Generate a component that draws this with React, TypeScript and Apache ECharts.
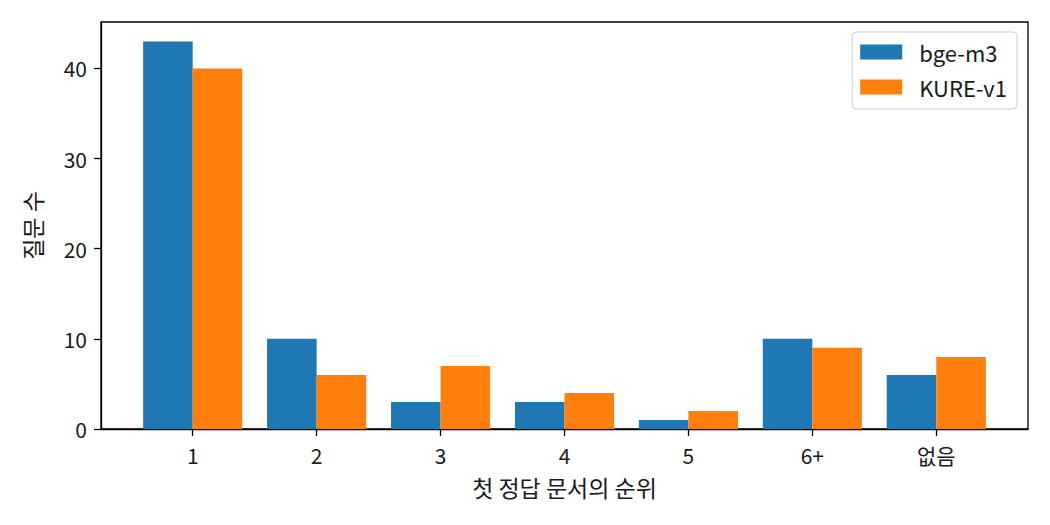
import React, { useEffect, useRef } from 'react'
import * as echarts from 'echarts'

// 순위 구간 (x축 카테고리)
const categories = ['1', '2', '3', '4', '5', '6+', '없음']
// 모델별 질문 수
const bgeM3 = [43, 10, 3, 3, 1, 10, 6]
const kureV1 = [40, 6, 7, 4, 2, 9, 8]
// y축 눈금
const yTicks = [0, 10, 20, 30, 40]

const FONT = '"Noto Sans CJK KR", "Noto Sans", sans-serif'
const TEXT = '#1a1a1a'

const App: React.FC = () => {
    const chartRef = useRef<HTMLDivElement | null>(null)

    useEffect(() => {
        if (!chartRef.current) return
        const chart = echarts.init(chartRef.current, null, { renderer: 'svg' })

        const xIdx = categories.map((_, i) => i)
        const toPairs = (vals: number[]) => vals.map((v, i) => [i, v])

        chart.setOption({
            animation: false,
            backgroundColor: '#fff',
            textStyle: { fontFamily: FONT },
            grid: {
                left: 101,
                right: 22,
                top: 22,
                bottom: 96,
                show: true,
                borderColor: '#000',
                borderWidth: 1.3,
                backgroundColor: 'transparent',
            },
            legend: {
                orient: 'vertical',
                right: 33,
                top: 32,
                itemWidth: 42,
                itemHeight: 15,
                itemGap: 13,
                padding: [9, 10, 11, 8],
                borderColor: '#cccccc',
                borderWidth: 1,
                borderRadius: 4,
                backgroundColor: 'rgba(255,255,255,0.8)',
                icon: 'rect',
                textStyle: {
                    fontFamily: FONT,
                    fontSize: 22,
                    color: TEXT,
                    padding: [0, 0, 0, 12],
                },
                data: ['bge-m3', 'KURE-v1'],
            },
            xAxis: {
                type: 'value',
                min: -0.74,
                max: 6.74,
                name: '첫 정답 문서의 순위',
                nameLocation: 'middle',
                nameGap: 46,
                nameTextStyle: { fontFamily: FONT, fontSize: 23, color: TEXT },
                axisLine: { show: true, onZero: false, lineStyle: { color: '#000', width: 1.3 } },
                axisTick: {
                    show: true,
                    length: 7,
                    customValues: xIdx,
                    lineStyle: { color: '#000', width: 1.3 },
                },
                axisLabel: {
                    customValues: xIdx,
                    formatter: (v: number) => categories[Math.round(v)] ?? '',
                    margin: 15,
                    fontFamily: FONT,
                    fontSize: 21,
                    color: TEXT,
                },
                splitLine: { show: false },
            },
            yAxis: {
                type: 'value',
                min: 0,
                max: 45.15,
                name: '질문 수',
                nameLocation: 'middle',
                nameRotate: 90,
                nameGap: 58,
                nameTextStyle: { fontFamily: FONT, fontSize: 23, color: TEXT },
                axisLine: { show: true, onZero: false, lineStyle: { color: '#000', width: 1.3 } },
                axisTick: {
                    show: true,
                    length: 7,
                    customValues: yTicks,
                    lineStyle: { color: '#000', width: 1.3 },
                },
                axisLabel: {
                    customValues: yTicks,
                    margin: 14,
                    fontFamily: FONT,
                    fontSize: 21,
                    color: TEXT,
                },
                splitLine: { show: false },
            },
            series: [
                {
                    name: 'bge-m3',
                    type: 'bar',
                    data: toPairs(bgeM3),
                    barWidth: '40%',
                    barGap: '0%',
                    itemStyle: { color: '#1f77b4' },
                },
                {
                    name: 'KURE-v1',
                    type: 'bar',
                    data: toPairs(kureV1),
                    barWidth: '40%',
                    barGap: '0%',
                    itemStyle: { color: '#ff7f0e' },
                },
            ],
        })

        return () => {
            chart.dispose()
        }
    }, [])

    return (
        <div
            ref={chartRef}
            style={{ position: 'fixed', left: 0, top: 0, width: 1050, height: 525 }}
        />
    )
}

export default App
